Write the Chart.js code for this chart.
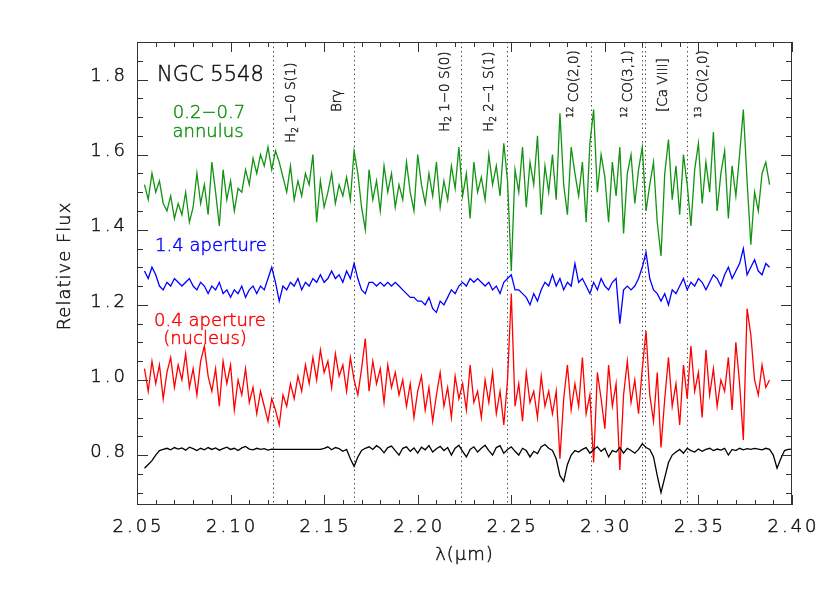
<!DOCTYPE html>
<html>
<head>
<meta charset="utf-8">
<title>NGC 5548 K-band spectra</title>
<script src="https://cdn.jsdelivr.net/npm/chart.js@4.4.1/dist/chart.umd.min.js"></script>
<style>
    html, body { margin: 0; padding: 0; background: #fff; }
    #chart { display: block; }
</style>
</head>
<body>
<canvas id="chart" width="830" height="593"></canvas>
<script>
// Wavelength grid (micron), regular sampling of the spectra
const lambdaStart = 2.054;
const lambdaStep = 0.002;

// 0.2-0.7 annulus (green)
const annulusFlux = [
    1.52, 1.48, 1.55, 1.50, 1.53, 1.47, 1.45, 1.49, 1.43, 1.47,
    1.44, 1.50, 1.42, 1.46, 1.55, 1.47, 1.52, 1.44, 1.58, 1.50,
    1.41, 1.56, 1.48, 1.53, 1.45, 1.51, 1.50, 1.56, 1.52, 1.59,
    1.55, 1.60, 1.57, 1.62, 1.56, 1.61, 1.58, 1.54, 1.50, 1.57,
    1.48, 1.53, 1.49, 1.55, 1.52, 1.60, 1.42, 1.53, 1.46, 1.50,
    1.55, 1.47, 1.52, 1.49, 1.54, 1.48, 1.61, 1.55, 1.46, 1.40,
    1.56, 1.48, 1.53, 1.45, 1.57, 1.50, 1.55, 1.46, 1.52, 1.48,
    1.58, 1.50, 1.45, 1.60, 1.52, 1.47, 1.55, 1.49, 1.58, 1.46,
    1.53, 1.48, 1.57, 1.51, 1.62, 1.49, 1.55, 1.43, 1.58, 1.50,
    1.54, 1.48, 1.60, 1.52, 1.57, 1.49, 1.63, 1.53, 1.29, 1.56,
    1.50, 1.62, 1.46, 1.58, 1.52, 1.65, 1.44, 1.57, 1.50, 1.60,
    1.48, 1.71, 1.52, 1.44, 1.62, 1.55, 1.49, 1.58, 1.42, 1.63,
    1.72, 1.50, 1.60, 1.54, 1.42, 1.58, 1.49, 1.62, 1.39, 1.55,
    1.60, 1.47, 1.56, 1.62, 1.45, 1.52, 1.58, 1.42, 1.33, 1.55,
    1.64, 1.48, 1.57, 1.44, 1.60, 1.52, 1.41, 1.56, 1.63, 1.47,
    1.58, 1.50, 1.66, 1.45, 1.55, 1.61, 1.43, 1.57, 1.49, 1.60,
    1.72, 1.53, 1.36, 1.50, 1.45, 1.55, 1.58, 1.52
];

// 1.4 aperture (blue)
const apertureFlux = [
    1.29, 1.27, 1.30, 1.28, 1.25, 1.24, 1.26, 1.25, 1.27, 1.26,
    1.25, 1.26, 1.27, 1.25, 1.24, 1.26, 1.25, 1.23, 1.25, 1.24,
    1.26, 1.23, 1.24, 1.22, 1.24, 1.23, 1.25, 1.22, 1.24, 1.25,
    1.23, 1.25, 1.24, 1.27, 1.30, 1.26, 1.21, 1.25, 1.24, 1.26,
    1.25, 1.27, 1.24, 1.26, 1.25, 1.27, 1.26, 1.28, 1.26, 1.27,
    1.29, 1.27, 1.28, 1.26, 1.29, 1.27, 1.31, 1.27, 1.24, 1.23,
    1.26, 1.26, 1.25, 1.26, 1.25, 1.26, 1.25, 1.26, 1.25, 1.24,
    1.23, 1.22, 1.22, 1.21, 1.21, 1.20, 1.22, 1.19, 1.18, 1.21,
    1.20, 1.22, 1.24, 1.23, 1.25, 1.26, 1.25, 1.27, 1.26, 1.27,
    1.26, 1.25, 1.26, 1.24, 1.25, 1.23, 1.26, 1.27, 1.28, 1.24,
    1.24, 1.23, 1.22, 1.20, 1.23, 1.21, 1.24, 1.26, 1.25, 1.28,
    1.25, 1.27, 1.24, 1.26, 1.25, 1.31, 1.26, 1.27, 1.25, 1.23,
    1.26, 1.24, 1.27, 1.25, 1.24, 1.26, 1.27, 1.15, 1.24, 1.25,
    1.24, 1.25, 1.27, 1.30, 1.34, 1.27, 1.24, 1.23, 1.21, 1.23,
    1.20, 1.24, 1.23, 1.25, 1.27, 1.24, 1.26, 1.25, 1.27, 1.26,
    1.24, 1.26, 1.28, 1.27, 1.25, 1.28, 1.30, 1.27, 1.29, 1.31,
    1.35, 1.28, 1.30, 1.32, 1.29, 1.28, 1.31, 1.30
];

// 0.4 aperture, nucleus (red)
const nucleusFlux = [
    1.03, 0.97, 1.05, 0.99, 1.04, 0.95, 1.02, 1.06, 0.98, 1.04,
    1.00, 1.07, 0.98, 1.03, 0.96, 1.05, 1.09, 1.01, 0.97, 1.03,
    0.93, 1.05, 0.99, 1.04, 0.92, 1.00, 0.96, 1.03, 0.94, 0.98,
    0.91, 0.97, 0.93, 0.89, 0.95, 0.92, 0.88, 0.96, 0.93, 0.99,
    0.95, 1.01, 0.97, 1.04, 0.99, 1.06, 1.00, 1.08, 1.02, 1.05,
    0.98, 1.07, 1.01, 1.04, 0.97, 1.06, 1.00, 0.96, 1.03, 1.11,
    0.97, 1.05, 0.99, 1.03, 0.94, 1.04, 0.98, 1.02, 0.96, 1.00,
    0.93, 0.99, 0.90, 0.97, 1.01, 0.92, 0.98, 0.89, 0.96, 1.02,
    0.93, 0.98, 0.90, 1.01, 0.95, 0.99, 0.92, 1.04, 0.94, 0.97,
    0.90, 1.00, 0.94, 1.02, 0.91, 0.97, 0.88, 1.00, 1.23, 0.93,
    0.99, 0.89, 1.02, 0.94, 0.97, 0.90, 1.01, 0.93, 0.97, 0.91,
    0.97, 0.79, 0.95, 1.04, 0.92, 0.99, 0.93, 1.06, 0.91, 0.96,
    0.78, 1.02, 0.95, 0.87, 1.04, 0.93, 0.99, 0.76, 0.96, 1.05,
    0.94, 1.00, 0.91, 1.03, 1.13, 0.96, 0.89, 1.02, 0.82, 0.95,
    1.06, 0.93, 0.99, 0.88, 1.04, 0.95, 1.09, 0.97, 1.02, 0.90,
    1.08, 0.96, 1.03, 0.93, 1.00, 0.97, 1.06, 0.92, 1.10, 0.99,
    0.84, 1.19, 1.12, 1.00, 0.96, 1.04, 0.98, 1.00
];

// stellar template (black)
const templateFlux = [
    0.765, 0.775, 0.785, 0.800, 0.812, 0.815, 0.818, 0.814, 0.820, 0.816,
    0.819, 0.813, 0.821, 0.817, 0.812, 0.818, 0.814, 0.820, 0.815, 0.819,
    0.813, 0.817, 0.821, 0.815, 0.818, 0.812, 0.819, 0.823, 0.816, 0.814,
    0.818, 0.815, 0.817, 0.813, 0.816, 0.815, 0.815, 0.815, 0.815, 0.815,
    0.815, 0.815, 0.815, 0.815, 0.815, 0.815, 0.815, 0.815, 0.818, 0.822,
    0.814, 0.820, 0.817, 0.810, 0.815, 0.790, 0.770, 0.795, 0.812, 0.818,
    0.822, 0.815, 0.825, 0.818, 0.806, 0.820, 0.824, 0.812, 0.800, 0.818,
    0.822, 0.810, 0.819, 0.805, 0.821, 0.814, 0.825, 0.808, 0.817, 0.823,
    0.812, 0.820, 0.800, 0.818, 0.826, 0.810, 0.795, 0.815, 0.822, 0.808,
    0.818, 0.826, 0.812, 0.800, 0.820, 0.825, 0.805, 0.815, 0.822, 0.810,
    0.800, 0.818, 0.812, 0.795, 0.810, 0.804, 0.822, 0.828, 0.818, 0.812,
    0.790, 0.745, 0.730, 0.775, 0.800, 0.812, 0.808, 0.815, 0.820, 0.805,
    0.815, 0.822, 0.810, 0.818, 0.795, 0.812, 0.808, 0.820, 0.805, 0.818,
    0.812, 0.805, 0.815, 0.830, 0.820, 0.815, 0.795, 0.745, 0.700, 0.740,
    0.780, 0.800, 0.808, 0.815, 0.805, 0.818, 0.812, 0.808, 0.816, 0.810,
    0.815, 0.818, 0.812, 0.816, 0.813, 0.818, 0.800, 0.815, 0.812, 0.818,
    0.814, 0.817, 0.815, 0.818, 0.816, 0.814, 0.818, 0.815, 0.800, 0.765,
    0.790, 0.812, 0.815, 0.816
];

// axis ticks
const xTicks = [2.05, 2.10, 2.15, 2.20, 2.25, 2.30, 2.35, 2.40];
const yTicks = [0.8, 1.0, 1.2, 1.4, 1.6, 1.8];

// line identifications: marker wavelength, label centre wavelength, label bottom (px)
const lineWaves = [2.1225, 2.1660, 2.2231, 2.2477, 2.2926, 2.3198, 2.3214, 2.3438];
const lineLabels = [
    { at: 2.1328, bottom: 143, parts: [['H', 0], ['2', 1], [' 1\u22120 S(1)', 0]] },
    { at: 2.1574, bottom: 112, parts: [['Br\u03b3', 0]] },
    { at: 2.2146, bottom: 132, parts: [['H', 0], ['2', 1], [' 1\u22120 S(0)', 0]] },
    { at: 2.2386, bottom: 132, parts: [['H', 0], ['2', 1], [' 2\u22121 S(1)', 0]] },
    { at: 2.2840, bottom: 118, parts: [['12', -1], [' CO(2,0)', 0]] },
    { at: 2.3129, bottom: 118, parts: [['12', -1], [' CO(3,1)', 0]] },
    { at: 2.3311, bottom: 112, parts: [['[Ca VIII]', 0]] },
    { at: 2.3525, bottom: 118, parts: [['13', -1], [' CO(2,0)', 0]] }
];

const GREEN = '#129312', BLUE = '#0000ff', RED = '#ff0000', INK = '#111';
const FONT = '"DejaVu Sans", sans-serif';

function toPoints(values) {
    return values.map((v, i) => ({ x: +(lambdaStart + i * lambdaStep).toFixed(4), y: v }));
}

function spectrum(label, values, color) {
    return {
        label: label,
        data: toPoints(values),
        borderColor: color,
        borderWidth: 1.3,
        pointRadius: 0,
        tension: 0,
        fill: false
    };
}

// thin text, thickened slightly with a hairline stroke
function text(ctx, str, x, y, color) {
    ctx.fillStyle = color;
    ctx.strokeStyle = color;
    ctx.lineWidth = 0.45;
    ctx.fillText(str, x, y);
    ctx.strokeText(str, x, y);
}

// dotted marker lines, under the spectra
const markerLines = {
    id: 'markerLines',
    beforeDatasetsDraw(chart) {
        const { ctx, chartArea, scales } = chart;
        ctx.save();
        ctx.strokeStyle = '#555';
        ctx.lineWidth = 1;
        ctx.setLineDash([1.5, 3]);
        lineWaves.forEach(w => {
            const x = Math.round(scales.x.getPixelForValue(w)) + 0.5;
            ctx.beginPath();
            ctx.moveTo(x, chartArea.top);
            ctx.lineTo(x, chartArea.bottom);
            ctx.stroke();
        });
        ctx.restore();
    }
};

// box, inward ticks, tick labels, titles and annotations
const frame = {
    id: 'frame',
    afterDraw(chart) {
        const { ctx, chartArea: a, scales } = chart;
        const xs = scales.x, ys = scales.y;
        ctx.save();
        ctx.strokeStyle = '#333';
        ctx.lineWidth = 1;
        ctx.strokeRect(a.left + 0.5, a.top + 0.5, a.right - a.left - 1, a.bottom - a.top - 1);

        ctx.beginPath();
        // x ticks every 0.01, major every 0.05
        for (let k = 205; k <= 240; k++) {
            const x = Math.round(xs.getPixelForValue(k / 100)) + 0.5;
            const len = k % 5 === 0 ? 10 : 5;
            ctx.moveTo(x, a.bottom); ctx.lineTo(x, a.bottom - len);
            ctx.moveTo(x, a.top); ctx.lineTo(x, a.top + len);
        }
        // y ticks every 0.05, major every 0.2
        for (let k = 14; k <= 37; k++) {
            const v = k / 20;
            const y = Math.round(ys.getPixelForValue(v)) + 0.5;
            const len = k % 4 === 0 ? 11 : 6;
            ctx.moveTo(a.left, y); ctx.lineTo(a.left + len, y);
            ctx.moveTo(a.right, y); ctx.lineTo(a.right - len, y);
        }
        ctx.stroke();

        ctx.font = '200 18px ' + FONT;
        ctx.letterSpacing = '3px';
        ctx.textBaseline = 'middle';
        ctx.textAlign = 'center';
        xTicks.forEach(t => text(ctx, t.toFixed(2), xs.getPixelForValue(t) + 1.5, a.bottom + 22, INK));
        ctx.textAlign = 'right';
        yTicks.forEach(t => text(ctx, t.toFixed(1), a.left - 9, ys.getPixelForValue(t) - 3, INK));
        ctx.letterSpacing = '1px';

        // axis titles
        ctx.textAlign = 'center';
        text(ctx, '\u03bb(\u03bcm)', (a.left + a.right) / 2, a.bottom + 50, INK);
        ctx.save();
        ctx.translate(65, 266);
        ctx.rotate(-Math.PI / 2);
        text(ctx, 'Relative Flux', 0, 0, INK);
        ctx.restore();
        ctx.letterSpacing = '0px';

        // line identifications, rotated
        lineLabels.forEach(lab => {
            ctx.save();
            ctx.translate(xs.getPixelForValue(lab.at), lab.bottom);
            ctx.rotate(-Math.PI / 2);
            ctx.textAlign = 'left';
            let pos = 0;
            lab.parts.forEach(([txt, shift]) => {
                ctx.font = (shift ? '200 9px ' : '200 13.5px ') + FONT;
                text(ctx, txt, pos, shift * 4, '#222');
                pos += ctx.measureText(txt).width;
            });
            ctx.restore();
        });

        // object name and spectrum names
        ctx.textBaseline = 'alphabetic';
        ctx.textAlign = 'left';
        ctx.font = '200 21px ' + FONT;
        text(ctx, 'NGC 5548', 157, 81, INK);
        ctx.font = '200 18px ' + FONT;
        ctx.textAlign = 'center';
        text(ctx, '0.2\u22120.7', 209, 118, GREEN);
        text(ctx, 'annulus', 208, 137, GREEN);
        text(ctx, '1.4 aperture', 211, 251, BLUE);
        text(ctx, '0.4 aperture', 210, 326, RED);
        text(ctx, '(nucleus)', 205, 344, RED);
        ctx.restore();
    }
};

new Chart(document.getElementById('chart'), {
    type: 'line',
    data: {
        datasets: [
            spectrum('stellar template', templateFlux, '#000'),
            spectrum('0.4 aperture (nucleus)', nucleusFlux, RED),
            spectrum('1.4 aperture', apertureFlux, BLUE),
            spectrum('0.2-0.7 annulus', annulusFlux, GREEN)
        ]
    },
    options: {
        responsive: false,
        animation: false,
        events: [],
        layout: { padding: { left: 137, right: 38, top: 42, bottom: 88 } },
        plugins: { legend: { display: false }, tooltip: { enabled: false } },
        scales: {
            x: { type: 'linear', min: 2.05, max: 2.40, display: false },
            y: { type: 'linear', min: 0.667, max: 1.90, display: false }
        }
    },
    plugins: [markerLines, frame]
});
</script>
</body>
</html>
